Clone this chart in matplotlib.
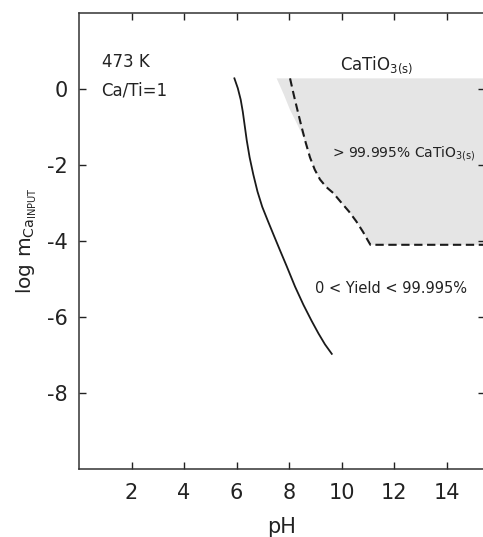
import numpy as np
from matplotlib import pyplot as plt

plt.rcParams["font.family"] = ["DejaVu Sans"]
plt.rcParams["mathtext.fontset"] = "dejavusans"
plt.rcParams["mathtext.default"] = "regular"
plt.rcParams["axes.unicode_minus"] = False

# solid boundary (onset of CaTiO3 yield)
solid_ph = [5.92, 6.05, 6.16, 6.24, 6.31, 6.39, 6.50, 6.64, 6.80, 6.98, 7.20,
            7.42, 7.66, 7.91, 8.23, 8.55, 8.86, 9.12, 9.37, 9.63]
solid_logm = [0.28, 0.02, -0.28, -0.60, -0.95, -1.35, -1.80, -2.25, -2.70, -3.10,
              -3.48, -3.85, -4.25, -4.66, -5.20, -5.68, -6.10, -6.43, -6.72, -6.97]

# dashed boundary (> 99.995 % yield)
dashed_ph = [8.04, 8.18, 8.33, 8.48, 8.64, 8.80, 8.98, 9.18, 9.42, 9.69, 9.98,
             10.28, 10.56, 10.82, 11.00, 11.10, 15.6]
dashed_logm = [0.28, -0.15, -0.58, -1.00, -1.42, -1.80, -2.12, -2.38, -2.58,
               -2.74, -2.98, -3.22, -3.48, -3.76, -3.98, -4.10, -4.10]

# left edge of the shaded CaTiO3(s) field above the dashed line
shade_ph = [7.53, 7.80, 8.04, 8.28, 8.48, 8.66, 8.80, 8.98]
shade_logm = [0.28, -0.14, -0.55, -0.88, -1.17, -1.46, -1.74, -2.12]

x_ticks = [2, 4, 6, 8, 10, 12, 14]
y_ticks = [0, -2, -4, -6, -8]
XMAX = 15.45

fig = plt.figure(figsize=(4.83, 5.37), dpi=100)
ax = fig.add_axes([79 / 483, 1 - 469 / 537, XMAX * 26.25 / 483, (469 - 13) / 537])

poly_x = shade_ph + dashed_ph[7:] + [dashed_ph[-1], shade_ph[0]]
poly_y = shade_logm + dashed_logm[7:] + [shade_logm[0], shade_logm[0]]
ax.fill(poly_x, poly_y, color="#e5e5e5", lw=0, zorder=0)

ax.plot(solid_ph, solid_logm, color="#1a1a1a", lw=1.3)
ax.plot(dashed_ph, dashed_logm, color="#1a1a1a", lw=1.5, dashes=(4, 2.2))

ax.text(0.86, 0.72, "473 K", fontsize=12, va="center", ha="left", color="#222222")
ax.text(0.86, -0.04, "Ca/Ti=1", fontsize=12, va="center", ha="left", color="#222222")
ax.text(11.35, 0.63, r"CaTiO$_{3(s)}$", fontsize=12, va="center", ha="center",
        color="#222222")
ax.text(9.63, -1.71, r"> 99.995% CaTiO$_{3(s)}$", fontsize=10, va="center",
        ha="left", color="#222222")
ax.text(8.99, -5.26, "0 < Yield < 99.995%", fontsize=10.5, va="center", ha="left",
        color="#222222")

ax.set_xlim(0, XMAX)
ax.set_ylim(-10, 2)
ax.set_xticks(x_ticks)
ax.set_yticks(y_ticks)
ax.tick_params(direction="in", length=5, width=1, top=True, right=True,
               labelsize=15, colors="#222222")
ax.tick_params(axis="x", pad=10)
ax.tick_params(axis="y", pad=8)
for s in ax.spines.values():
    s.set_linewidth(1.1)
    s.set_color("#333333")

ax.set_xlabel("pH", fontsize=15, labelpad=10, color="#222222")
ax.set_ylabel(r"log m$_{Ca_{INPUT}}$", fontsize=14.5, labelpad=6, color="#222222")

fig.savefig("out.png", dpi=100)
